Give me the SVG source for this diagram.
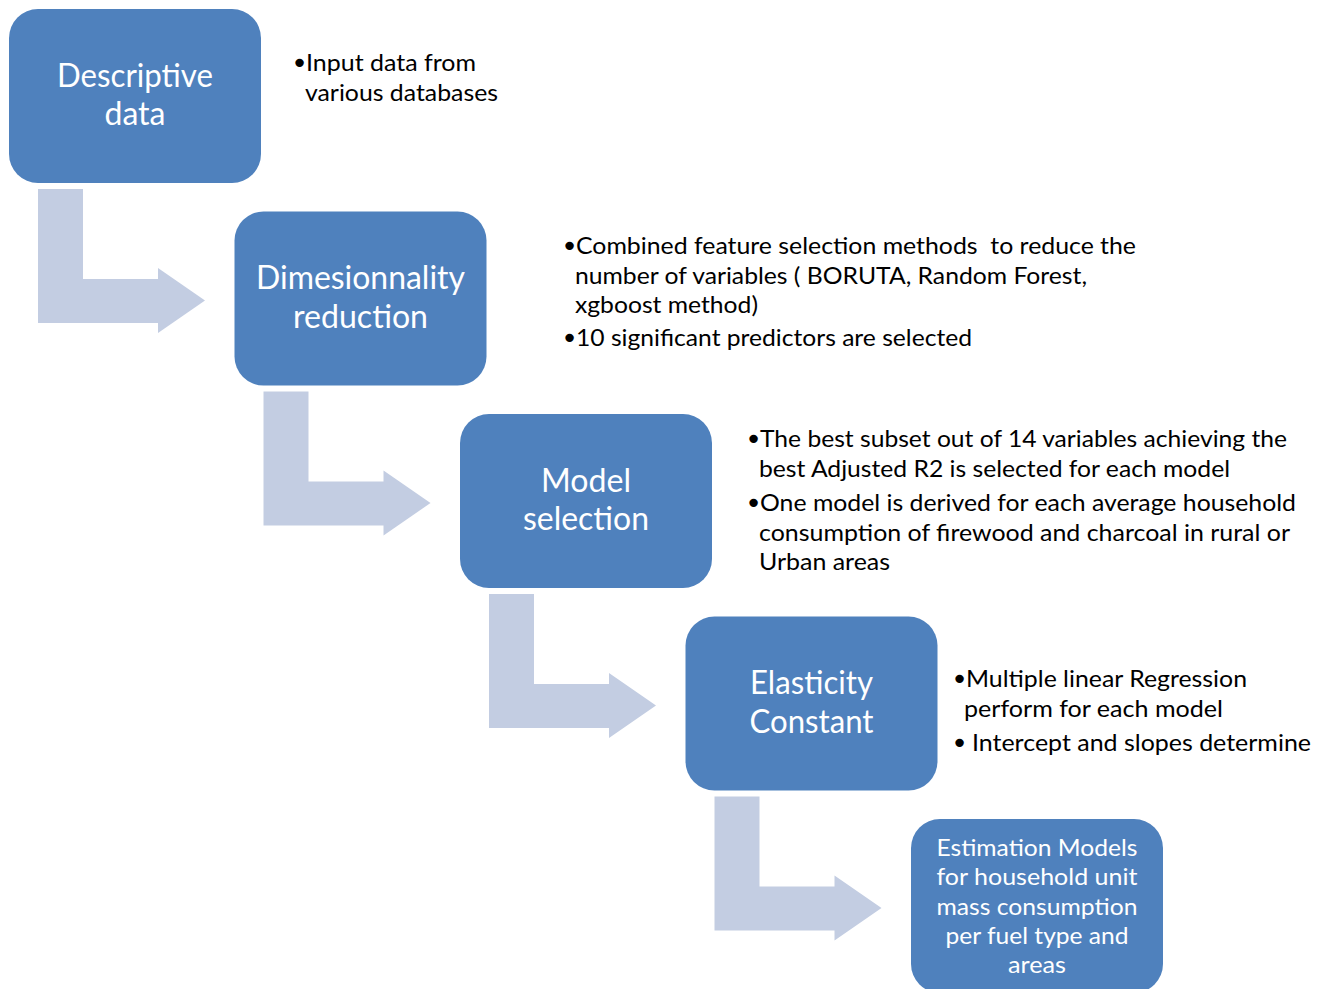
<svg xmlns="http://www.w3.org/2000/svg" xmlns:xlink="http://www.w3.org/1999/xlink" width="1328" height="989" viewBox="0 0 1328 989">
<style>
.box{fill:#4F81BD;}
.arrow{fill:#C3CDE2;}
.bt{font-family:Lato,"Open Sans","Liberation Sans",sans-serif;font-size:32px;fill:#FFFFFF;text-anchor:middle;}
.bs{font-family:Lato,"Open Sans","Liberation Sans",sans-serif;font-size:24px;fill:#FFFFFF;text-anchor:middle;}
.t{font-family:Lato,"Open Sans","Liberation Sans",sans-serif;font-size:24px;fill:#000000;}
.b{font-family:"DejaVu Sans",sans-serif;font-size:29px;fill:#000000;}
</style>
<defs>
<path id="arr" d="M38,189 H83 V279 H158 V268 L205,300.5 L158,333 V323 H38 Z"/>
</defs>
<rect width="1328" height="989" fill="#FFFFFF"/>
<g id="connectors">
<use xlink:href="#arr" class="arrow"/>
<use xlink:href="#arr" class="arrow" transform="translate(225.5,202.5)"/>
<use xlink:href="#arr" class="arrow" transform="translate(451,405)"/>
<use xlink:href="#arr" class="arrow" transform="translate(676.5,607.5)"/>
</g>
<g id="node-descriptive">
<rect class="box" x="9" y="9" width="252" height="174" rx="29"/>
<text class="bt" x="135" y="87" textLength="156" lengthAdjust="spacingAndGlyphs">Descriptive</text>
<text class="bt" x="135" y="125" textLength="61" lengthAdjust="spacingAndGlyphs">data</text>
</g>
<g id="node-dimensionality">
<rect class="box" x="234.5" y="211.5" width="252" height="174" rx="29"/>
<text class="bt" x="360.5" y="289" textLength="209" lengthAdjust="spacingAndGlyphs">Dimesionnality</text>
<text class="bt" x="360.5" y="327.5" textLength="135" lengthAdjust="spacingAndGlyphs">reduction</text>
</g>
<g id="node-model">
<rect class="box" x="460" y="414" width="252" height="174" rx="29"/>
<text class="bt" x="586" y="491.5" textLength="90" lengthAdjust="spacingAndGlyphs">Model</text>
<text class="bt" x="586" y="530" textLength="126" lengthAdjust="spacingAndGlyphs">selection</text>
</g>
<g id="node-elasticity">
<rect class="box" x="685.5" y="616.5" width="252" height="174" rx="29"/>
<text class="bt" x="811.5" y="694" textLength="123" lengthAdjust="spacingAndGlyphs">Elasticity</text>
<text class="bt" x="811.5" y="732.5" textLength="124" lengthAdjust="spacingAndGlyphs">Constant</text>
</g>
<g id="node-estimation">
<rect class="box" x="911" y="819" width="252" height="174" rx="29"/>
<text class="bs" x="1037" y="855.5" textLength="201" lengthAdjust="spacingAndGlyphs">Estimation Models</text>
<text class="bs" x="1037" y="885" textLength="201" lengthAdjust="spacingAndGlyphs">for household unit</text>
<text class="bs" x="1037" y="914.5" textLength="201" lengthAdjust="spacingAndGlyphs">mass consumption</text>
<text class="bs" x="1037" y="943.5" textLength="183" lengthAdjust="spacingAndGlyphs">per fuel type and</text>
<text class="bs" x="1037" y="972.5" textLength="58" lengthAdjust="spacingAndGlyphs">areas</text>
</g>
<g id="notes-descriptive">
<text class="b" x="291" y="73">•</text>
<text class="t" x="306" y="71" textLength="170" lengthAdjust="spacingAndGlyphs">Input data from</text>
<text class="t" x="305" y="100.5" textLength="193" lengthAdjust="spacingAndGlyphs">various databases</text>
</g>
<g id="notes-dimensionality">
<text class="b" x="561" y="256">•</text>
<text class="t" x="576" y="254" textLength="560" lengthAdjust="spacingAndGlyphs" xml:space="preserve">Combined feature selection methods  to reduce the</text>
<text class="t" x="575" y="283.5" textLength="512" lengthAdjust="spacingAndGlyphs">number of variables ( BORUTA, Random Forest,</text>
<text class="t" x="575" y="312.5" textLength="183" lengthAdjust="spacingAndGlyphs">xgboost method)</text>
<text class="b" x="561" y="348">•</text>
<text class="t" x="576" y="346" textLength="396" lengthAdjust="spacingAndGlyphs">10 significant predictors are selected</text>
</g>
<g id="notes-model">
<text class="b" x="745" y="449">•</text>
<text class="t" x="760" y="447" textLength="527" lengthAdjust="spacingAndGlyphs">The best subset out of 14 variables achieving the</text>
<text class="t" x="759" y="476.5" textLength="471" lengthAdjust="spacingAndGlyphs">best Adjusted R2 is selected for each model</text>
<text class="b" x="745" y="513">•</text>
<text class="t" x="760" y="511" textLength="536" lengthAdjust="spacingAndGlyphs">One model is derived for each average household</text>
<text class="t" x="759" y="540.5" textLength="531" lengthAdjust="spacingAndGlyphs">consumption of firewood and charcoal in rural or</text>
<text class="t" x="759" y="570" textLength="131" lengthAdjust="spacingAndGlyphs">Urban areas</text>
</g>
<g id="notes-elasticity">
<text class="b" x="951" y="689">•</text>
<text class="t" x="966" y="687" textLength="281" lengthAdjust="spacingAndGlyphs">Multiple linear Regression</text>
<text class="t" x="964" y="717" textLength="259" lengthAdjust="spacingAndGlyphs">perform for each model</text>
<text class="b" x="951" y="753">•</text>
<text class="t" x="972" y="751" textLength="339" lengthAdjust="spacingAndGlyphs">Intercept and slopes determine</text>
</g>
</svg>
